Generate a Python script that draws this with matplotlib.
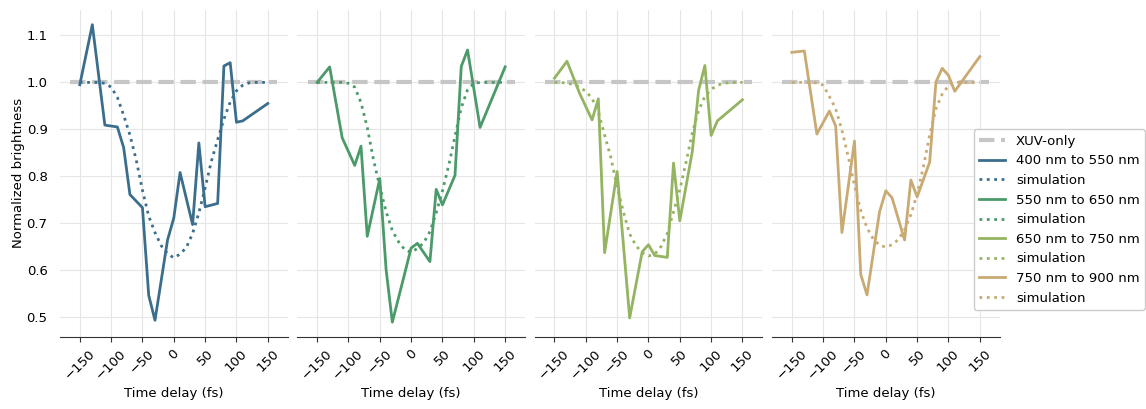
import numpy as np
import matplotlib.pyplot as plt

# measured delays (fs)
delay = [-150, -130, -110, -90, -80, -70, -50, -40, -30, -10, 0, 10,
         30, 40, 50, 70, 80, 90, 100, 110, 150]

b1 = [0.995, 1.123, 0.909, 0.905, 0.861, 0.761, 0.733, 0.546, 0.493, 0.664, 0.711, 0.808,
      0.697, 0.871, 0.735, 0.742, 1.035, 1.042, 0.915, 0.918, 0.955]
b2 = [1.000, 1.033, 0.882, 0.823, 0.864, 0.672, 0.795, 0.602, 0.489, 0.594, 0.647, 0.657,
      0.618, 0.772, 0.739, 0.802, 1.034, 1.069, 0.987, 0.904, 1.033]
b3 = [1.009, 1.045, 0.977, 0.920, 0.965, 0.637, 0.810, 0.654, 0.498, 0.639, 0.654, 0.631,
      0.627, 0.828, 0.705, 0.853, 0.983, 1.036, 0.887, 0.918, 0.963]
b4 = [1.064, 1.067, 0.890, 0.939, 0.907, 0.680, 0.875, 0.591, 0.547, 0.724, 0.769, 0.754,
      0.664, 0.792, 0.756, 0.830, 1.001, 1.030, 1.015, 0.981, 1.055]

# simulation, every 10 fs from -150 to 150
sim_delay = list(range(-150, 151, 10))
s1 = [1.0, 1.0, 1.0, 1.0, 0.998, 0.990, 0.968, 0.930, 0.888, 0.835, 0.770, 0.715, 0.680,
      0.652, 0.635, 0.626, 0.634, 0.648, 0.678, 0.722, 0.775, 0.832, 0.878, 0.922, 0.958,
      0.982, 0.994, 0.999, 1.0, 1.0, 1.0]
s2 = [1.0, 1.0, 1.0, 1.0, 1.0, 0.998, 0.990, 0.957, 0.904, 0.835, 0.777, 0.725, 0.684,
      0.660, 0.643, 0.638, 0.646, 0.658, 0.682, 0.722, 0.769, 0.823, 0.885, 0.946, 0.984,
      0.998, 1.0, 1.0, 1.0, 1.0, 1.0]
s3 = [1.0, 1.0, 0.998, 0.996, 0.990, 0.981, 0.966, 0.937, 0.888, 0.840, 0.777, 0.724, 0.677,
      0.652, 0.637, 0.630, 0.634, 0.650, 0.678, 0.724, 0.771, 0.830, 0.893, 0.940, 0.970,
      0.985, 0.994, 0.998, 1.0, 1.0, 1.0]
s4 = [1.0, 1.0, 1.0, 1.0, 0.999, 0.994, 0.970, 0.944, 0.898, 0.842, 0.780, 0.727, 0.690,
      0.666, 0.653, 0.649, 0.654, 0.665, 0.686, 0.718, 0.762, 0.820, 0.888, 0.944, 0.975,
      0.993, 1.0, 1.0, 1.0, 1.0, 1.0]

bands = ['400 nm to 550 nm', '550 nm to 650 nm', '650 nm to 750 nm', '750 nm to 900 nm']
colors = ['#3b6e8c', '#4b9a69', '#94b461', '#c8aa72']
measured = [b1, b2, b3, b4]
simulated = [s1, s2, s3, s4]

# XUV-only reference level
xuv_delay = [-165, 165]
xuv_level = [1.0, 1.0]

fs = 9.5
fig = plt.figure(figsize=(11.46, 4.09), dpi=100)
left0, width, step = 0.0524, 0.1985, 0.2071
bottom, height = 0.176, 0.80

axes = []
for i in range(4):
    ax = fig.add_axes([left0 + i * step, bottom, width, height],
                      sharey=axes[0] if axes else None)
    axes.append(ax)

handles = []
for i, ax in enumerate(axes):
    h0, = ax.plot(xuv_delay, xuv_level, color='#c6c6c6', ls='--', lw=3,
                  label='XUV-only', zorder=1)
    h1, = ax.plot(delay, measured[i], color=colors[i], lw=2, label=bands[i], zorder=3)
    h2, = ax.plot(sim_delay, simulated[i], color=colors[i], lw=2, ls=':',
                  label='simulation', zorder=2)
    if i == 0:
        handles.append(h0)
    handles += [h1, h2]

    ax.grid(True, color='#e6e6e6', lw=0.8)
    ax.set_axisbelow(True)
    for s in ['top', 'right', 'left']:
        ax.spines[s].set_visible(False)
    ax.spines['bottom'].set_color('#333333')
    ax.set_xticks([-150, -100, -50, 0, 50, 100, 150])
    ax.tick_params(axis='x', rotation=45, labelsize=fs, color='#333333')
    ax.tick_params(axis='y', length=0, labelsize=fs, pad=9)
    for lab in ax.get_xticklabels():
        lab.set_ha('center')
    ax.set_xlabel('Time delay (fs)', fontsize=fs)
    if i > 0:
        ax.tick_params(axis='y', labelleft=False)

axes[0].set_ylabel('Normalized brightness', fontsize=fs, labelpad=1)
axes[0].set_yticks([0.5, 0.6, 0.7, 0.8, 0.9, 1.0, 1.1])

fig.legend(handles=handles, labels=[h.get_label() for h in handles],
           loc='center left', bbox_to_anchor=(0.844, 0.463), fontsize=fs,
           handlelength=2.0, framealpha=1, edgecolor='#cccccc')

fig.savefig('out.png', dpi=100)
